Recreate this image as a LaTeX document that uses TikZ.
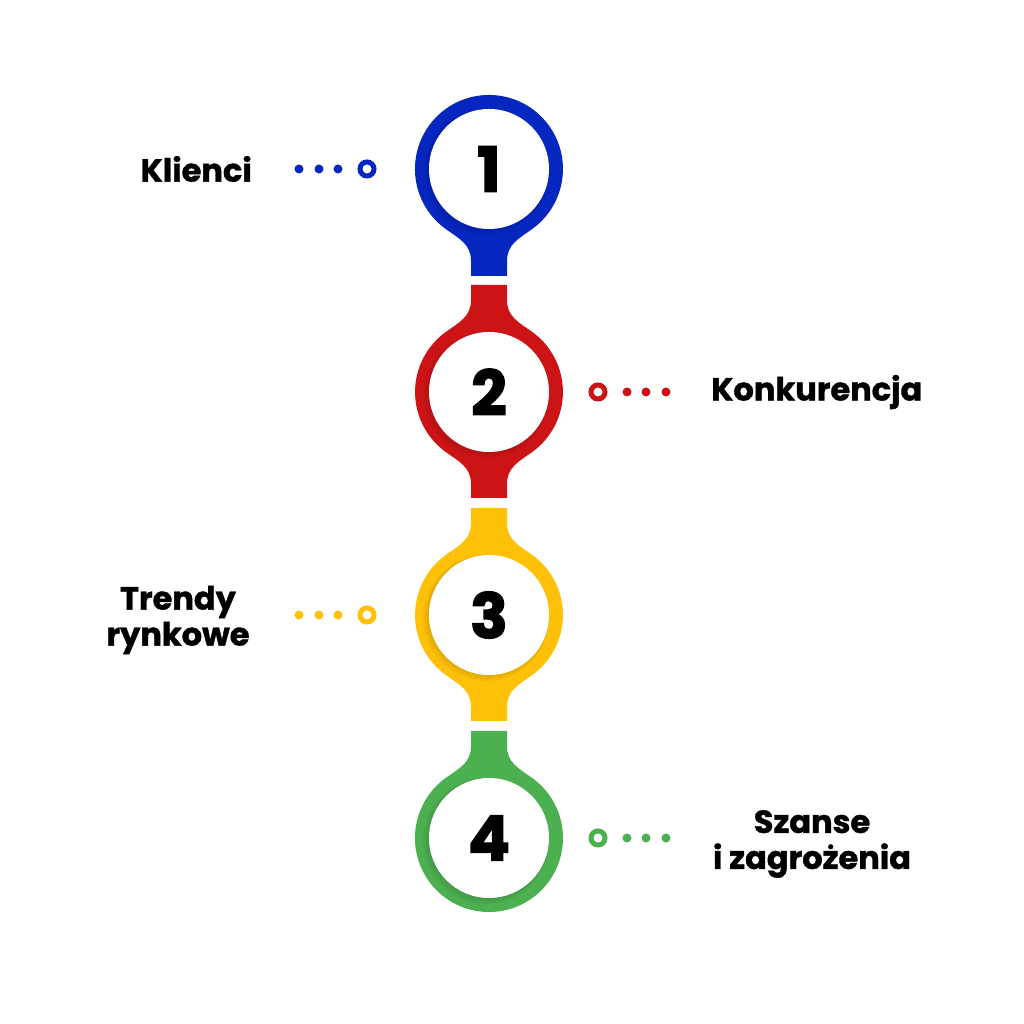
\documentclass[tikz,border=0pt]{standalone}
\usepackage{fontspec}
\setmainfont{Poppins}
\newfontfamily\numfont{Poppins}[BoldFeatures={FakeBold=2.5}]
\newfontfamily\labelfont{Poppins}[BoldFeatures={FakeBold=1.2}]
\usepackage{tikz}
\usetikzlibrary{calc}
\usetikzlibrary{positioning}

\definecolor{kblue}{RGB}{6,38,192}
\definecolor{kred}{RGB}{204,20,22}
\definecolor{kyellow}{RGB}{255,193,7}
\definecolor{kgreen}{RGB}{76,175,80}

\begin{document}
\begin{tikzpicture}[x=1pt,y=1pt,
    hole/.style = {circle, fill=white, minimum size=120pt, inner sep=0pt,
                   font=\numfont\bfseries\fontsize{62}{62}\selectfont},
    ring/.style = {circle, draw=#1, line width=5pt, minimum size=14pt, inner sep=0pt},
    label/.style = {font=\labelfont\bfseries\fontsize{32}{36}\selectfont, align=center, inner sep=0pt},
    crescent/.style = {fill=#1!70!black, opacity=0.12}]
\useasboundingbox (0,0) rectangle (1024,1024);
\fill[white] (0,0) rectangle (1024,1024);

% beads
\fill[kblue, shift={(489,855)}] (18,-107) -- (18,-92) .. controls (18,-76) and (28.5,-70.3) .. (42.4,-60.6)
    arc[start angle=-55, end angle=235, radius=74pt]
    .. controls (-28.5,-70.3) and (-18,-76) .. (-18,-92) -- (-18,-107) -- cycle;
\fill[kred, shift={(489,632)}] (18,-106) -- (18,-92) .. controls (18,-76) and (28.5,-70.3) .. (42.4,-60.6)
    arc[start angle=-55, end angle=55, radius=74pt]
    .. controls (28.5,70.3) and (18,76) .. (18,92) -- (18,107) -- (-18,107) -- (-18,92)
    .. controls (-18,76) and (-28.5,70.3) .. (-42.4,60.6)
    arc[start angle=125, end angle=235, radius=74pt]
    .. controls (-28.5,-70.3) and (-18,-76) .. (-18,-92) -- (-18,-106) -- cycle;
\fill[kyellow, shift={(489,409)}] (18,-106) -- (18,-92) .. controls (18,-76) and (28.5,-70.3) .. (42.4,-60.6)
    arc[start angle=-55, end angle=55, radius=74pt]
    .. controls (28.5,70.3) and (18,76) .. (18,92) -- (18,107) -- (-18,107) -- (-18,92)
    .. controls (-18,76) and (-28.5,70.3) .. (-42.4,60.6)
    arc[start angle=125, end angle=235, radius=74pt]
    .. controls (-28.5,-70.3) and (-18,-76) .. (-18,-92) -- (-18,-106) -- cycle;
\fill[kgreen, shift={(489,186)}] (18,107) -- (18,92) .. controls (18,76) and (28.5,70.3) .. (42.4,60.6)
    arc[start angle=55, end angle=-235, radius=74pt]
    .. controls (-28.5,70.3) and (-18,76) .. (-18,92) -- (-18,107) -- cycle;

% soft shade under the holes
\foreach \s/\r in {1/61, 2/62, 3/63} {
    \fill[crescent=kblue] (489-\s,855-\s) circle[radius=\r pt];
    \fill[crescent=kred] (489-\s,632-\s) circle[radius=\r pt];
    \fill[crescent=kyellow] (489-\s,409-\s) circle[radius=\r pt];
    \fill[crescent=kgreen] (489-\s,186-\s) circle[radius=\r pt];
}

\node[hole] (n1) at (489,855) {1};
\node[hole] (n2) at (489,632) {2};
\node[hole] (n3) at (489,409) {3};
\node[hole] (n4) at (489,186) {4};

% rings and dots
\node[ring=kblue] (r1) at (367,855) {};
\node[ring=kred] (r2) at (598,632) {};
\node[ring=kyellow] (r3) at (367,409) {};
\node[ring=kgreen] (r4) at (598,186) {};
\foreach \d in {29,48,68} {
    \fill[kblue] ([xshift=-\d pt]r1.center) circle[radius=4.5pt];
    \fill[kred] ([xshift=\d pt]r2.center) circle[radius=4.5pt];
    \fill[kyellow] ([xshift=-\d pt]r3.center) circle[radius=4.5pt];
    \fill[kgreen] ([xshift=\d pt]r4.center) circle[radius=4.5pt];
}

% labels
\node[label, anchor=east] (l1) at (252,855) {Klienci};
\node[label, anchor=west] (l2) at (711,632) {Konkurencja};
\node[label] (l3) at (178,404) {Trendy\\rynkowe};
\node[label] (l4) at (812,180) {Szanse\\i zagrożenia};
\end{tikzpicture}
\end{document}
